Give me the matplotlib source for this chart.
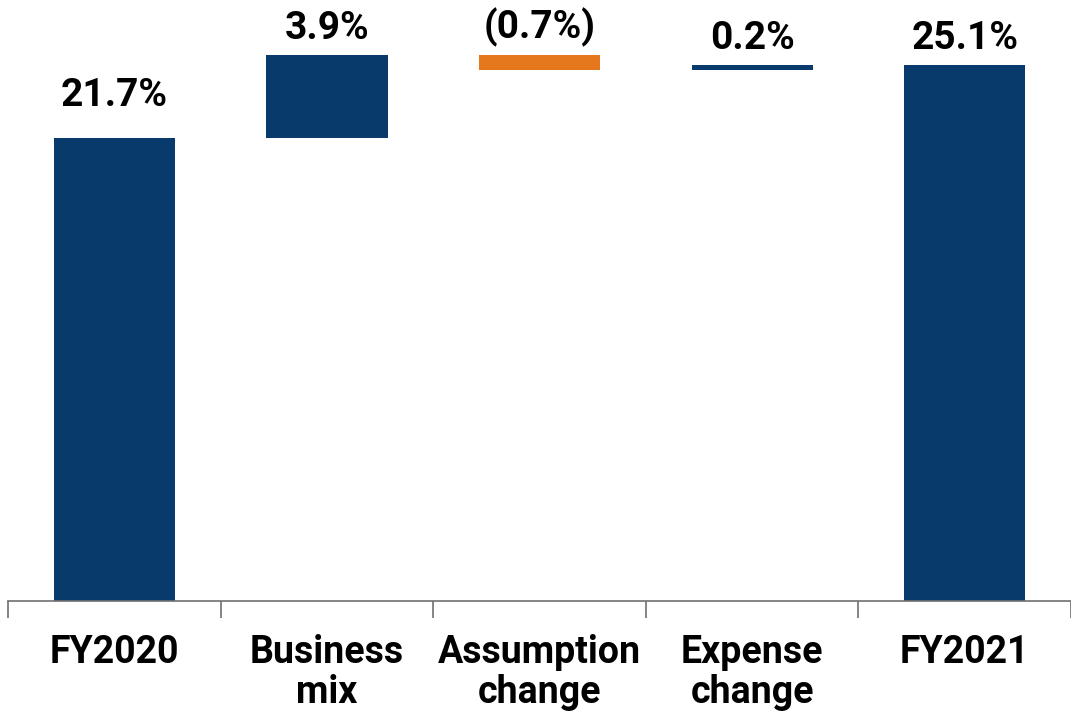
import numpy as np
import matplotlib.pyplot as plt

categories = ['FY2020', 'Business\nmix', 'Assumption\nchange', 'Expense\nchange', 'FY2021']
changes = [21.7, 3.9, -0.7, 0.2, 25.1]
value_labels = ['21.7%', '3.9%', '(0.7%)', '0.2%', '25.1%']
is_total = [True, False, False, False, True]

navy = '#083a6b'
orange = '#e5781d'

plt.rcParams['font.family'] = ['Roboto', 'Liberation Sans', 'DejaVu Sans']

fig = plt.figure(figsize=(10.71, 7.12), dpi=100)
ax = fig.add_axes([0.0075, 0.156, 0.9925, 0.844])

# waterfall bottoms / heights
bottoms = []
heights = []
running = 0.0
for val, tot in zip(changes, is_total):
    if tot:
        bottoms.append(0.0)
        heights.append(val)
        running = val
    else:
        if val >= 0:
            bottoms.append(running)
        else:
            bottoms.append(running + val)
        heights.append(abs(val))
        running += val

x = np.arange(len(categories))
colors = [orange if (v < 0 and not t) else navy for v, t in zip(changes, is_total)]
ax.bar(x, heights, bottom=bottoms, width=0.57, color=colors)

for i in range(len(x)):
    top = bottoms[i] + heights[i]
    # labels near the top of the frame sit a bit closer to their bars
    ty = top + (0.75 if top > 24 else 1.5)
    ax.text(x[i], ty, value_labels[i], ha='center', va='baseline',
            fontsize=28, fontweight='bold')

ax.set_xlim(-0.5, len(x) - 0.5)
ax.set_ylim(0, 28.16)

ax.set_xticks(x)
ax.set_xticklabels(categories, fontsize=27, fontweight='bold', linespacing=1.1)
ax.set_xticks(np.arange(-0.5, len(x)), minor=True)
ax.tick_params(axis='x', which='major', length=0, pad=24)
ax.tick_params(axis='x', which='minor', length=12, color='#707070', width=1.2)
ax.set_yticks([])

for s in ['top', 'right', 'left']:
    ax.spines[s].set_visible(False)
ax.spines['bottom'].set_color('#707070')
ax.spines['bottom'].set_linewidth(1.2)

fig.savefig('out.png', dpi=100)
